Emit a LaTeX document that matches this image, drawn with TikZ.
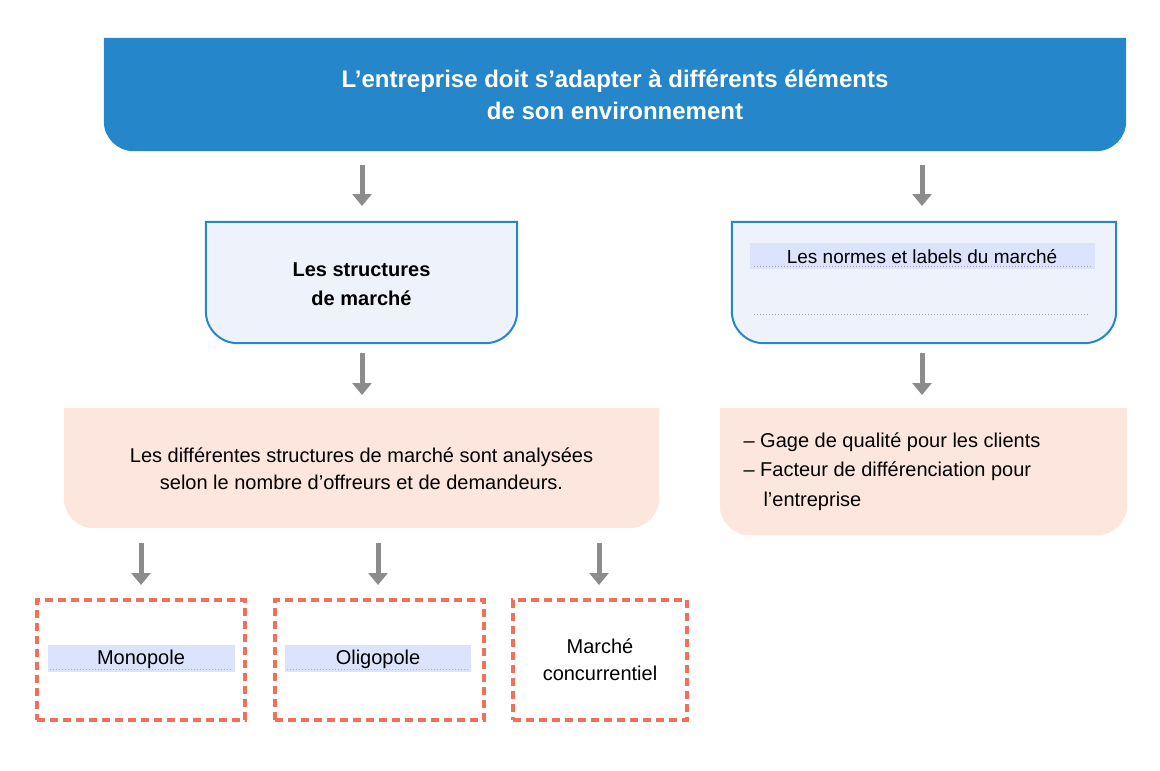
\documentclass[tikz,border=0pt]{standalone}
\usepackage{fontspec}
\setmainfont{Liberation Sans}
\usetikzlibrary{arrows.meta}
\definecolor{tblue}{HTML}{2587C9}
\definecolor{lblue}{HTML}{EEF2FB}
\definecolor{peach}{HTML}{FCE6DE}
\definecolor{hl}{HTML}{DCE3FC}
\definecolor{dred}{HTML}{F07158}
\definecolor{agray}{HTML}{8C8C8C}
\tikzset{
 arr/.style={draw=agray,line width=5pt,-{Triangle[width=19pt,length=12pt]}},
 box/.style={minimum width=#1,inner sep=0pt},
 dbox/.style={draw=dred,line width=3.5pt,dash pattern=on 8pt off 5pt},
 btxt/.style={font=\fontsize{20}{27}\selectfont,align=center},
}
\newcommand{\bottomround}[4]{% name, fill, draw, radius
 \path[fill=#2,draw=#3,line width=2pt,rounded corners=#4] (#1.north west) -- (#1.south west) -- (#1.south east) [sharp corners]-- (#1.north east) -- cycle;}
\begin{document}
\begin{tikzpicture}[x=1pt,y=-1pt]
\useasboundingbox (0,0) rectangle (1160,771);
% title
\node[minimum width=1022pt,minimum height=113pt,inner sep=0pt] (T) at (615,94.5) {};
\path[fill=tblue,rounded corners=30pt] (T.north west) -- (T.south west) -- (T.south east) [sharp corners]-- (T.north east) -- cycle;
\node[text=white,font=\bfseries\fontsize{24}{32}\selectfont,align=center] at (T.center) {L’entreprise doit s’adapter à différents éléments\\de son environnement};
% left blue box
\node[minimum width=311pt,minimum height=121pt,inner sep=0pt] (S) at (361.5,282.5) {};
\bottomround{S}{lblue}{tblue}{32pt}
\node[font=\bfseries\fontsize{20}{29}\selectfont,align=center] at (361.5,284) {Les structures\\de marché};
% right blue box
\node[minimum width=384pt,minimum height=121pt,inner sep=0pt] (N) at (924,282.5) {};
\bottomround{N}{lblue}{tblue}{32pt}
\fill[hl] (750,243) rectangle (1095,269);
\node[font=\fontsize{19}{24}\selectfont] (NL) at (922,257) {Les normes et labels du marché};
\draw[gray!70,line width=1pt,dotted] (754,266) -- (1091,266);
\draw[gray!70,line width=1pt,dotted] (754,314) -- (1090,314);
% peach boxes
\node[minimum width=595pt,minimum height=120pt,inner sep=0pt] (P) at (361.5,468) {};
\path[fill=peach,rounded corners=30pt] (P.north west) -- (P.south west) -- (P.south east) [sharp corners]-- (P.north east) -- cycle;
\node[btxt] at (361.5,469) {Les différentes structures de marché sont analysées\\selon le nombre d’offreurs et de demandeurs.};
\node[minimum width=407pt,minimum height=127pt,inner sep=0pt] (Q) at (923.5,471.5) {};
\path[fill=peach,rounded corners=30pt] (Q.north west) -- (Q.south west) -- (Q.south east) [sharp corners]-- (Q.north east) -- cycle;
\node[font=\fontsize{20}{29.5}\selectfont,align=left,anchor=north west] at (740,429) {– Gage de qualité pour les clients\\– Facteur de différenciation pour\\\hspace{20pt}l’entreprise};
% dashed boxes
\node[dbox,minimum width=208pt,minimum height=120pt,inner sep=0pt] (M) at (141,660) {};
\node[dbox,minimum width=209pt,minimum height=120pt,inner sep=0pt] (O) at (379.5,660) {};
\node[dbox,minimum width=174pt,minimum height=120pt,inner sep=0pt] (C) at (600,660) {};
\fill[hl] (48,645) rectangle (235,672);
\draw[gray!60,line width=1pt,dotted] (50,669) -- (233,669);
\node[btxt] at (141,659) {Monopole};
\fill[hl] (285,645) rectangle (471,672);
\draw[gray!60,line width=1pt,dotted] (287,669) -- (469,669);
\node[btxt] at (378,659) {Oligopole};
\node[btxt] at (600,660) {Marché\\concurrentiel};
% arrows
\draw[arr] (362,165) -- (362,206);
\draw[arr] (922,165) -- (922,206);
\draw[arr] (362,353) -- (362,395);
\draw[arr] (922,353) -- (922,395);
\draw[arr] (141,543) -- (141,585);
\draw[arr] (378,543) -- (378,585);
\draw[arr] (599,543) -- (599,585);
\end{tikzpicture}
\end{document}
